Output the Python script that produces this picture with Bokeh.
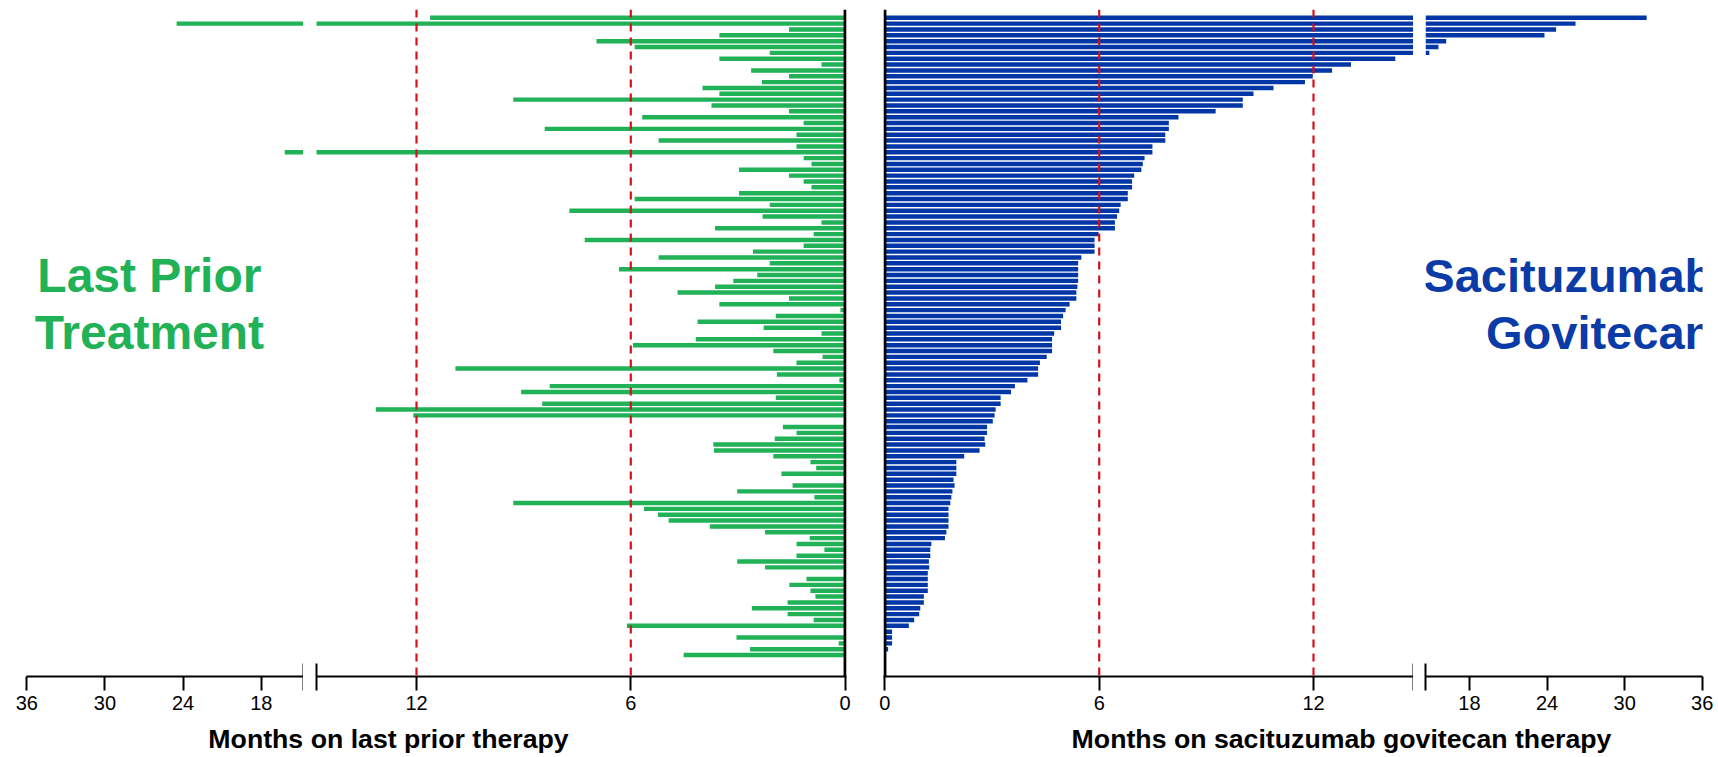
from bokeh.plotting import figure
from bokeh.models import Range1d, FixedTicker, Span, Label, ColumnDataSource, CDSView, BooleanFilter
from bokeh.layouts import row, column
from bokeh.embed import file_html
from bokeh.resources import INLINE
from bokeh.core.properties import value

# ---------------- data (months per patient, top row first) ----------------
patient = list(range(1, 111))

prior_months = [
    11.62, 24.5, 1.57, 3.52, 6.96, 5.89, 2.11, 3.52, 0.66, 2.63,
    1.57, 2.33, 3.99, 3.52, 9.29, 3.74, 1.57, 5.68, 1.16, 8.41,
    1.36, 5.22, 1.36, 16.2, 1.16, 0.94, 2.97, 1.57, 1.16, 0.94,
    2.97, 5.89, 2.11, 7.72, 2.31, 0.66, 3.64, 0.88, 7.29, 1.16,
    2.58, 5.22, 2.11, 6.33, 2.46, 3.13, 3.64, 4.69, 1.57, 3.52,
    0.13, 1.94, 4.13, 2.28, 0.66, 4.18, 5.94, 2.01, 0.63, 1.36,
    10.91, 1.91, 0.16, 8.27, 9.07, 1.94, 8.48, 13.14, 12.09, 0.0,
    1.74, 1.36, 1.97, 3.69, 3.67, 2.01, 0.97, 0.81, 1.78, 0.0,
    1.47, 3.02, 0.86, 9.29, 5.63, 5.24, 4.94, 3.79, 2.24, 0.99,
    1.36, 0.58, 1.36, 3.02, 2.24, 0.0, 1.08, 1.56, 0.97, 0.83,
    1.61, 2.61, 1.61, 0.88, 6.11, 0.0, 3.04, 0.18, 2.66, 4.52,
]

sg_months = [
    31.7, 26.2, 24.7, 23.8, 16.2, 15.6, 14.9, 14.29, 13.05, 12.52,
    11.98, 11.76, 10.88, 10.32, 10.02, 10.02, 9.26, 8.22, 7.95, 7.95,
    7.85, 7.85, 7.49, 7.49, 7.27, 7.22, 7.18, 6.98, 6.92, 6.92,
    6.80, 6.80, 6.60, 6.56, 6.50, 6.44, 6.44, 5.98, 5.87, 5.87,
    5.87, 5.50, 5.41, 5.41, 5.41, 5.41, 5.39, 5.36, 5.36, 5.17,
    5.06, 4.99, 4.93, 4.93, 4.74, 4.68, 4.68, 4.68, 4.53, 4.34,
    4.29, 4.29, 3.99, 3.64, 3.53, 3.24, 3.24, 3.10, 3.07, 3.02,
    2.86, 2.86, 2.79, 2.81, 2.65, 2.22, 2.00, 2.00, 2.00, 1.92,
    1.95, 1.89, 1.86, 1.83, 1.78, 1.78, 1.78, 1.78, 1.72, 1.68,
    1.30, 1.27, 1.27, 1.23, 1.24, 1.20, 1.20, 1.20, 1.20, 1.09,
    1.09, 0.99, 0.96, 0.82, 0.67, 0.20, 0.20, 0.20, 0.09, 0.03,
]

ticks_near = [0, 6, 12]
ticks_far = [18, 24, 30, 36]
reference_months = [6, 12]

left_title = ["Last Prior", "Treatment"]
right_title = ["Sacituzumab", "Govitecan"]
left_xlabel = "Months on last prior therapy"
right_xlabel = "Months on sacituzumab govitecan therapy"

# ---------------- style ----------------
GREEN = "#21b157"
BLUE = "#0036a6"
BLUE_T = "#0a3ba6"
RED = "#d4111b"
FONT = "Liberation Sans"

BREAK_LEFT = 14.76
BREAK_RIGHT = 14.60

src = ColumnDataSource(dict(patient=patient, prior=prior_months, sg=sg_months))
y_rng = Range1d(start=113.67, end=-0.42)

FIG_H = 724


def panel(width, x_range, b_left, b_right, ticks, brk):
    p = figure(width=width, height=FIG_H, x_range=x_range, y_range=y_rng,
               output_backend="svg", toolbar_location=None,
               y_axis_location=None,
               min_border_left=b_left, min_border_right=b_right,
               min_border_top=9, min_border_bottom=48)
    p.grid.visible = False
    p.outline_line_color = None
    ax = p.xaxis[0]
    ax.ticker = FixedTicker(ticks=ticks, minor_ticks=[brk])
    ax.axis_line_width = 2
    ax.axis_line_color = "black"
    ax.major_tick_line_width = 2
    ax.major_tick_in = 0
    ax.major_tick_out = 14
    ax.minor_tick_line_width = 2
    ax.minor_tick_in = 13
    ax.minor_tick_out = 14
    ax.minor_tick_line_color = "black"
    ax.major_label_text_font = FONT
    ax.major_label_text_font_size = "20px"
    ax.major_label_text_color = "black"
    ax.major_label_standoff = 5
    return p


# left panel: far (compressed) part and near part, both reversed
pA = panel(303, Range1d(36.02, BREAK_LEFT), 26, 0, ticks_far, BREAK_LEFT + 0.02)
pB = panel(553, Range1d(14.80, -0.04), 13, 10, ticks_near, 14.79)
# right panel
pC = panel(557, Range1d(-0.04, 14.80), 27, 0, ticks_near, 14.79)
pD = panel(305, Range1d(BREAK_RIGHT, 36.02), 12, 16, ticks_far, BREAK_RIGHT + 0.02)

long_prior = CDSView(filter=BooleanFilter([v > BREAK_LEFT for v in prior_months]))
long_sg = CDSView(filter=BooleanFilter([v > BREAK_RIGHT for v in sg_months]))

pA.hbar(y="patient", left=0, right="prior", height=0.76, source=src, view=long_prior,
        fill_color=GREEN, line_color=None)
pB.hbar(y="patient", left=0, right="prior", height=0.76, source=src,
        fill_color=GREEN, line_color=None)
pC.hbar(y="patient", left=0, right="sg", height=0.76, source=src,
        fill_color=BLUE, line_color=None)
pD.hbar(y="patient", left=0, right="sg", height=0.76, source=src, view=long_sg,
        fill_color=BLUE, line_color=None)

for p in (pB, pC):
    for m in reference_months:
        p.add_layout(Span(location=m, dimension="height", line_color=RED,
                          line_dash="8 6", line_width=2.2))
    p.add_layout(Span(location=0, dimension="height", line_color="black",
                      line_width=3))

# panel titles
title_rows = [45.0, 54.8]
pA.text(x=[26.59, 26.59], y=title_rows, text=left_title,
        text_font=value(FONT), text_font_style="bold", text_font_size="48px",
        text_color=GREEN, text_align="center", text_baseline="alphabetic")
for txt, yy in zip(right_title, title_rows):
    pD.add_layout(Label(x=36.85, y=yy, text=txt, text_font=FONT,
                        text_font_style="bold", text_font_size="47px",
                        text_color=BLUE_T, text_align="right",
                        text_baseline="alphabetic"))

# axis titles strip
pT = figure(width=1718, height=33, x_range=Range1d(0, 1718), y_range=Range1d(0, 33),
            output_backend="svg", toolbar_location=None,
            x_axis_location=None, y_axis_location=None,
            min_border_left=0, min_border_right=0, min_border_top=0, min_border_bottom=0)
pT.grid.visible = False
pT.outline_line_color = None
pT.text(x=[388, 1341], y=[18.5, 18.5], text=[left_xlabel, right_xlabel],
        text_font=value(FONT), text_font_style="bold", text_font_size="26.7px",
        text_color="black", text_align="center", text_baseline="alphabetic")

layout = column(row(pA, pB, pC, pD, spacing=0), pT, spacing=0)

open("out.html", "w").write(file_html(layout, INLINE))
